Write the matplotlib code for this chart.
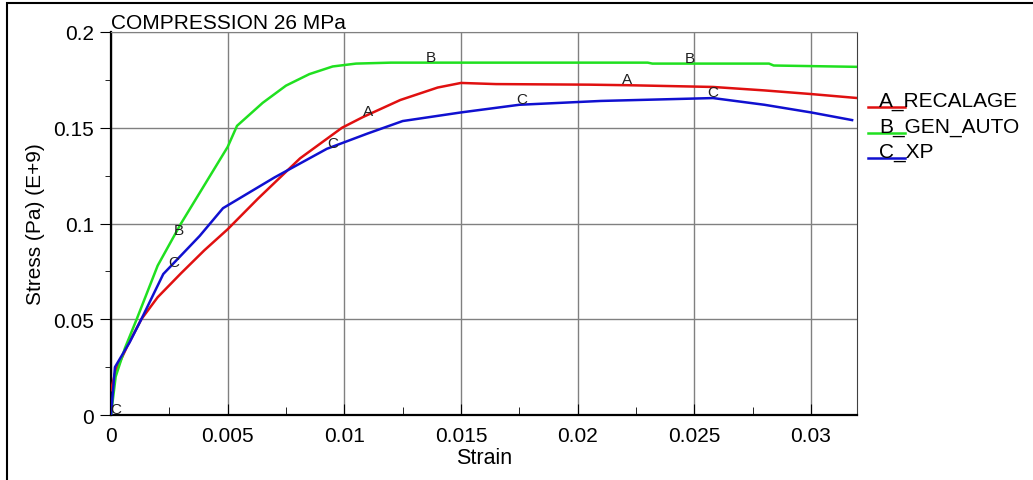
import numpy as np
import matplotlib
matplotlib.use("Agg")
import matplotlib.pyplot as plt
from matplotlib.lines import Line2D
from matplotlib.patches import Rectangle

plt.rcParams["font.family"] = ["Liberation Sans", "DejaVu Sans"]

# A RECALAGE (red)
strain_a = [0.0, 0.0002, 0.0007, 0.0013, 0.002, 0.003, 0.004, 0.005, 0.0063, 0.0081,
            0.0099, 0.0108, 0.0124, 0.0140, 0.0150, 0.0165, 0.0205, 0.0222, 0.0258,
            0.0280, 0.0300, 0.0320]
stress_a = [0.013, 0.023, 0.036, 0.050, 0.0615, 0.074, 0.086, 0.097, 0.113, 0.134,
            0.150, 0.1556, 0.1645, 0.171, 0.1734, 0.1728, 0.1725, 0.1722, 0.1713,
            0.1695, 0.1676, 0.1655]

# B GEN_AUTO (green)
strain_b = [0.0, 0.0002, 0.0006, 0.0011, 0.002, 0.003, 0.004, 0.005, 0.0054, 0.0065,
            0.0075, 0.0085, 0.0095, 0.0105, 0.0120, 0.0230, 0.0232, 0.0282, 0.0284,
            0.0320]
stress_b = [0.0, 0.020, 0.035, 0.050, 0.078, 0.100, 0.120, 0.140, 0.151, 0.163,
            0.172, 0.178, 0.182, 0.1835, 0.184, 0.184, 0.1835, 0.1835, 0.1825,
            0.1818]

# C XP (blue)
strain_c = [0.0, 0.00017, 0.0008, 0.0013, 0.00224, 0.0038, 0.0048, 0.0070, 0.00925,
            0.0110, 0.0125, 0.0150, 0.0175, 0.0210, 0.0258, 0.0280, 0.0300, 0.03176]
stress_c = [0.0, 0.025, 0.038, 0.050, 0.0736, 0.0935, 0.108, 0.124, 0.139,
            0.147, 0.1535, 0.158, 0.162, 0.164, 0.1655, 0.162, 0.158, 0.154]

series = [
    ("A", "RECALAGE", strain_a, stress_a, "#e01010", [0.0108, 0.0219]),
    ("B", "GEN_AUTO", strain_b, stress_b, "#20e020", [0.0027, 0.0135, 0.0246]),
    ("C", "XP", strain_c, stress_c, "#1010d0", [0.0, 0.0025, 0.0093, 0.0174, 0.0256]),
]

x_ticks = [0, 0.005, 0.01, 0.015, 0.02, 0.025, 0.03]
x_tick_labels = ["0", "0.005", "0.01", "0.015", "0.02", "0.025", "0.03"]
y_ticks = [0, 0.05, 0.1, 0.15, 0.2]
y_tick_labels = ["0", "0.05", "0.1", "0.15", "0.2"]

fig = plt.figure(figsize=(10.33, 4.81), dpi=100)
ax = fig.add_axes([111 / 1033, 1 - 416 / 481, (857 - 111) / 1033, (416 - 33) / 481])

for letter, name, xs, ys, color, lab_x in series:
    ax.plot(xs, ys, color=color, lw=1.8, zorder=3)
    for lx in lab_x:
        ly = np.interp(lx, xs, ys)
        ax.text(lx + 0.0002, ly + 0.003, letter, fontsize=11, ha="center", va="center",
                color="#202020", zorder=4)

ax.set_xlim(0, 0.03197)
ax.set_ylim(0, 0.2)
ax.set_xticks(x_ticks)
ax.set_xticklabels(x_tick_labels)
ax.set_yticks(y_ticks)
ax.set_yticklabels(y_tick_labels)
ax.set_xticks(np.arange(0.0025, 0.032, 0.005), minor=True)
ax.set_yticks([0.025, 0.075, 0.125, 0.175], minor=True)
ax.tick_params(axis="x", which="major", direction="in", length=8, labelsize=15, pad=8)
ax.tick_params(axis="x", which="minor", direction="in", length=6)
ax.tick_params(axis="y", which="major", direction="out", length=8, labelsize=15, pad=4)
ax.tick_params(axis="y", which="minor", direction="out", length=4)
ax.grid(True, which="major", color="#808080", lw=1)
for side in ["left", "bottom"]:
    ax.spines[side].set_linewidth(1.6)
ax.spines["right"].set_color("#404040")
ax.spines["top"].set_color("#808080")

ax.set_xlabel("Strain", fontsize=15.5, labelpad=1)
ax.set_ylabel("Stress (Pa) (E+9)", fontsize=15, labelpad=6)
ax.set_title("COMPRESSION 26 MPa", fontsize=15, loc="left", pad=1, x=0.0)

# legend drawn at the right of the plot
for i, (letter, name, xs, ys, color, lab_x) in enumerate(series):
    y0 = 1 - (108 + 25.5 * i) / 481
    fig.add_artist(Line2D([868 / 1033, 905 / 1033], [y0, y0], color=color, lw=1.8))
    fig.text(879 / 1033, y0 + 1 / 481, letter + "_" + name, fontsize=15, va="baseline",
             ha="left", color="black")

# outer border
fig.add_artist(Rectangle((7 / 1033, -0.05), 1.1, 1 - 4 / 481 + 0.05,
                         transform=fig.transFigure, fill=False, lw=1.5,
                         edgecolor="black"))

fig.savefig("out.png", dpi=100)
